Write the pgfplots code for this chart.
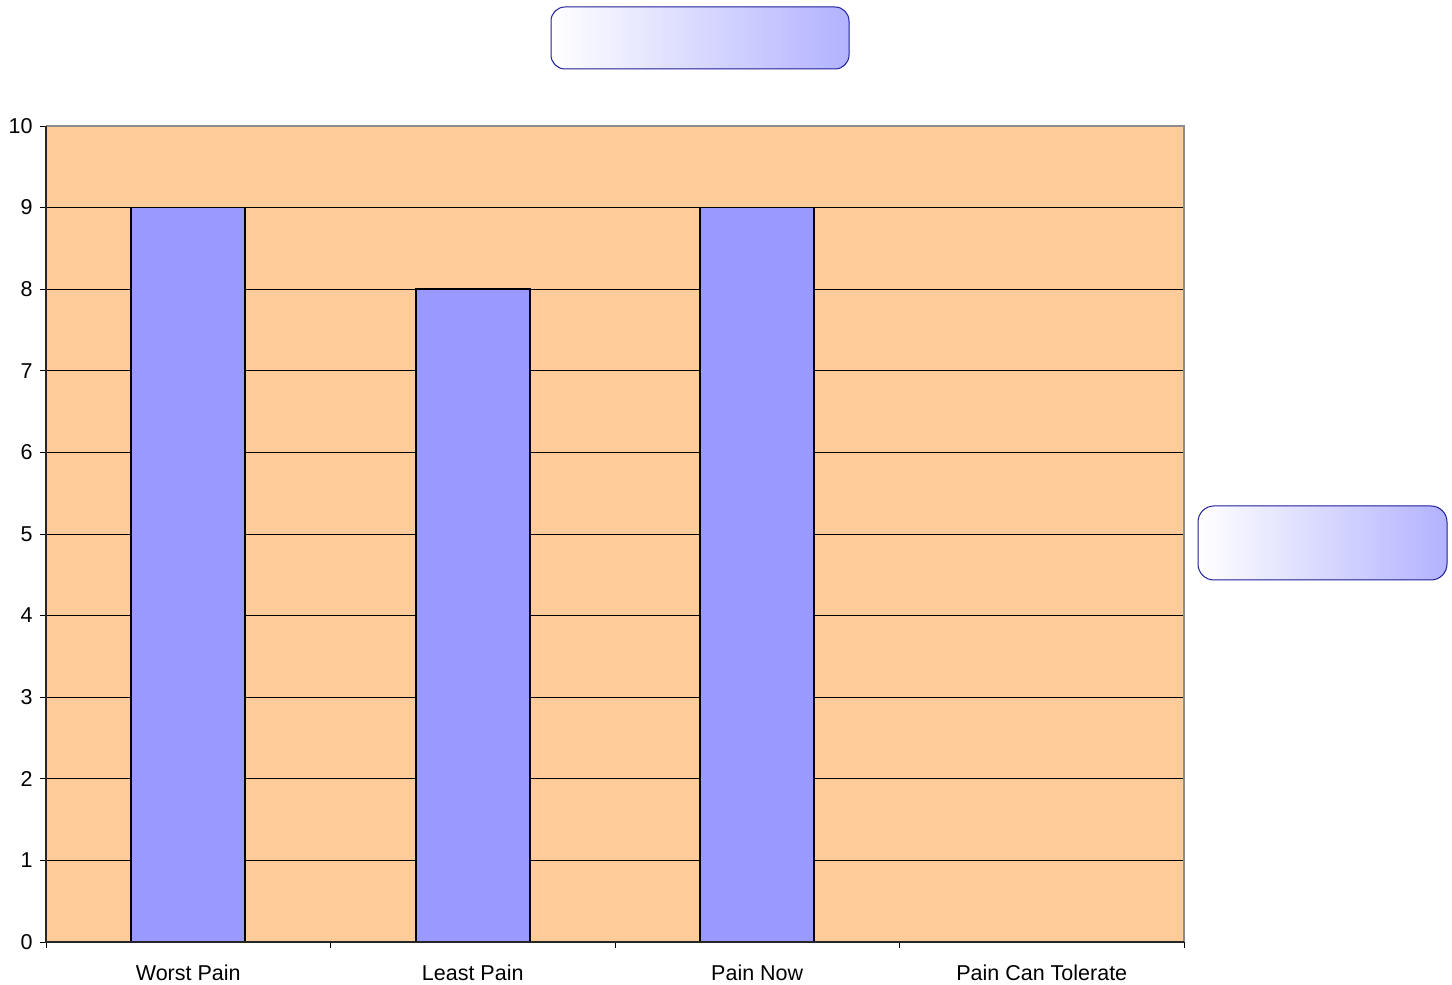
\documentclass[border=0pt]{standalone}
\usepackage{pgfplots}
\pgfplotsset{compat=1.18}
\usepackage{fontspec}
\setmainfont{Liberation Sans}
\definecolor{peach}{RGB}{255,204,153}
\definecolor{barblue}{RGB}{153,153,255}
\definecolor{boxend}{RGB}{178,178,255}
\definecolor{boxline}{RGB}{30,30,150}
\begin{document}
\begin{tikzpicture}[x=1pt,y=1pt]
\useasboundingbox (0,0) rectangle (1452,985);
\begin{axis}[
  at={(46pt,43pt)}, anchor=south west,
  scale only axis, width=1138pt, height=816pt,
  xmin=-0.5, xmax=3.5, ymin=0, ymax=10,
  axis background/.style={fill=peach},
  axis line style={draw=none},
  xtick={0,1,2,3},
  xticklabels={Worst Pain,Least Pain,Pain Now,Pain Can Tolerate},
  minor xtick={-0.5,0.5,1.5,2.5,3.5},
  ytick={0,1,...,10},
  ymajorgrids,
  major grid style={black, line width=0.6pt},
  x tick style={draw=none},
  minor x tick style={draw=black, line width=0.8pt},
  y tick style={draw=black, line width=0.8pt},
  tick align=outside,
  major tick length=6pt, minor tick length=6pt,
  xtick pos=bottom, ytick pos=left,
  tick label style={font=\fontsize{21.5}{25}\selectfont},
  /pgf/number format/assume math mode=true,
  xticklabel style={yshift=-13pt},
  yticklabel style={xshift=-4pt},
  clip=false,
]
\addplot[ybar, bar width=0.4, fill=barblue, draw=black, line width=1.8pt]
  coordinates {(0,9) (1,8) (2,9)};
\draw[gray!90, line width=1.2pt] (rel axis cs:0,1) -- (rel axis cs:1,1) -- (rel axis cs:1,0);
\draw[black!85, line width=1.2pt] (rel axis cs:0,1) -- (rel axis cs:0,0) -- (rel axis cs:1,0);
\end{axis}
\shade[left color=white, right color=boxend, rounded corners=14pt]
  (551,916) rectangle (849,978);
\draw[boxline, line width=1pt, rounded corners=14pt] (551,916) rectangle (849,978);
\shade[left color=white, right color=boxend, rounded corners=16pt]
  (1198,405) rectangle (1447,479);
\draw[boxline, line width=1pt, rounded corners=16pt] (1198,405) rectangle (1447,479);
\end{tikzpicture}
\end{document}
